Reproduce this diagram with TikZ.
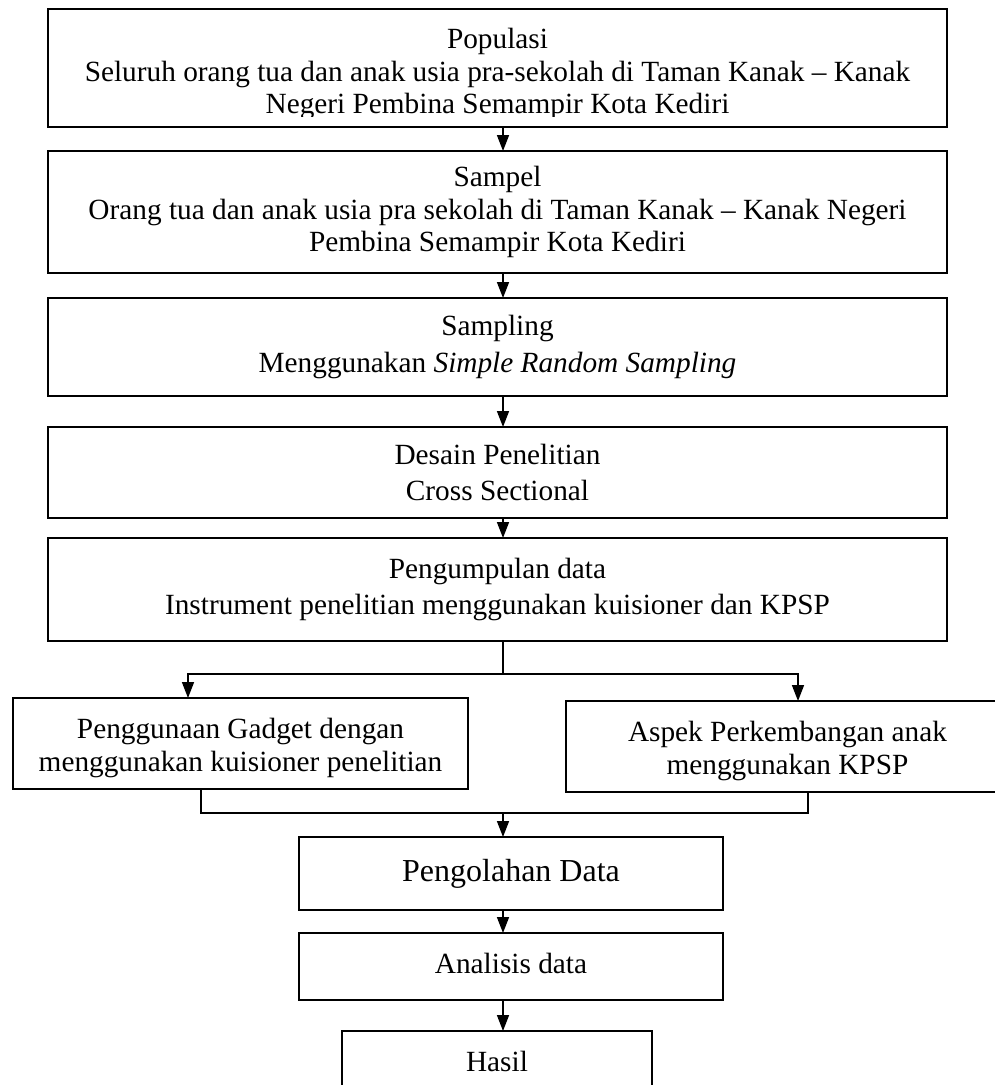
\documentclass[tikz,border=0pt]{standalone}
\usepackage{fontspec}
\setmainfont{Liberation Serif}
\usetikzlibrary{positioning,arrows.meta}
\tikzset{
  txt/.style={align=center,inner sep=0pt,font=\fontsize{29.3}{32.5}\selectfont},
  box/.style={txt,draw,line width=1.6pt,outer sep=0pt},
  arr/.style={-{Triangle[length=16pt,width=12pt]},line width=1.6pt},
  link/.style={line width=1.6pt},
}

\begin{document}
\begin{tikzpicture}[x=1pt,y=1pt]
  \useasboundingbox (0,0) rectangle (995,-1085);
  % main column
  \node[box,minimum width=899pt,minimum height=118pt] (pop) at (497.5,-68) {};
  \node[box,minimum width=899pt,minimum height=122pt] (smp) [below=24pt of pop] {};
  \begin{scope}
    \clip (pop.north west) rectangle ([yshift=11pt]pop.south east);
    \node[txt] (poptext) at ([yshift=-6pt]pop.center)
      {Populasi\\Seluruh orang tua dan anak usia pra-sekolah di Taman Kanak -- Kanak\\Negeri Pembina Semampir Kota Kediri};
  \end{scope}
  \begin{scope}
    \clip (smp.north west) rectangle ([yshift=11pt]smp.south east);
    \node[txt] (smptext) at (smp.center)
      {Sampel\\Orang tua dan anak usia pra sekolah di Taman Kanak -- Kanak Negeri\\Pembina Semampir Kota Kediri};
  \end{scope}
  \node[box,minimum width=899pt,minimum height=98pt] (tek) [below=25pt of smp]
    {Sampling\\[4pt]Menggunakan \textit{Simple Random Sampling}};
  \node[box,minimum width=899pt,minimum height=91pt] (des) [below=31pt of tek]
    {Desain Penelitian\\[4pt]Cross Sectional};
  \node[box,minimum width=899pt,minimum height=103pt] (kum) [below=20pt of des]
    {Pengumpulan data\\[3pt]Instrument penelitian menggunakan kuisioner dan KPSP};
  % two branches
  \node[box,minimum width=455pt,minimum height=91pt] (gad) at (240.5,-743.5) {};
  \node[txt] (gadtext) at ([yshift=-4.5pt]gad.center)
    {Penggunaan Gadget dengan\\menggunakan kuisioner penelitian};
  \node[box,minimum width=443pt,minimum height=91pt] (asp) at (787.5,-746.5) {};
  \node[txt] (asptext) at ([yshift=-4.5pt]asp.center)
    {Aspek Perkembangan anak\\menggunakan KPSP};
  % lower column
  \node[box,minimum width=424pt,minimum height=73pt,font=\fontsize{32}{36}\selectfont] (olah) at (511,-873.5)
    {Pengolahan Data};
  \node[box,minimum width=424pt,minimum height=67pt] (ana) [below=23pt of olah] {};
  \node[txt] (anatext) at ([yshift=3pt]ana.center) {Analisis data};
  \node[box,minimum width=310pt,minimum height=60pt] (has) at (497,-1061) {Hasil};

  \coordinate (axis) at (503,0);
  \coordinate (split) at (503,-674);
  \coordinate (inL) at (188,-674);
  \coordinate (inR) at (798,-674);
  \coordinate (outL) at (201,-813);
  \coordinate (outR) at (808,-813);
  \coordinate (merge) at (503,-813);

  \draw[arr] (pop.south -| axis) -- (smp.north -| axis);
  \draw[arr] (smp.south -| axis) -- (tek.north -| axis);
  \draw[arr] (tek.south -| axis) -- (des.north -| axis);
  \draw[arr] (des.south -| axis) -- (kum.north -| axis);
  \draw[link] (kum.south -| axis) -- (split);
  \draw[arr] (split) -- (inL) -- (gad.north -| inL);
  \draw[arr] (split) -- (inR) -- (asp.north -| inR);
  \draw[link] (gad.south -| outL) -- (outL) -- (outR) -- (asp.south -| outR);
  \draw[arr] (merge) -- (olah.north -| merge);
  \draw[arr] (olah.south -| axis) -- (ana.north -| axis);
  \draw[arr] (ana.south -| axis) -- (has.north -| axis);
\end{tikzpicture}
\end{document}
